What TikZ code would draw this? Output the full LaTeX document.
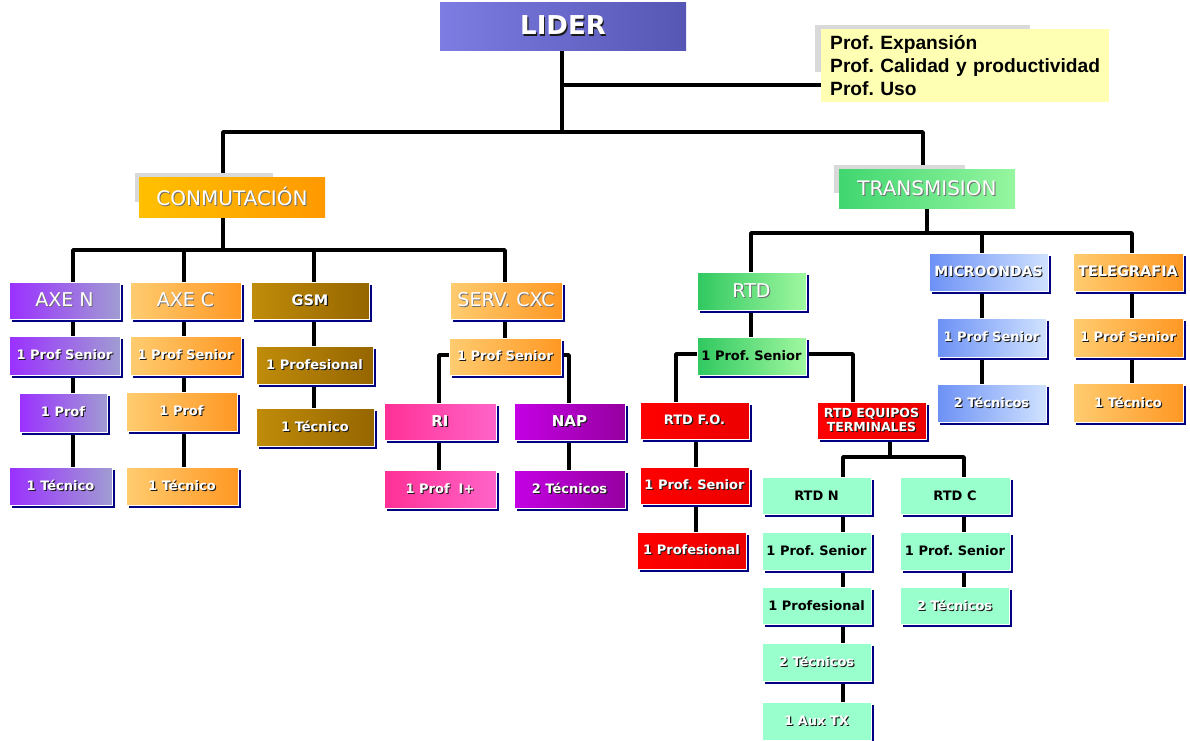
\documentclass[tikz,border=0pt]{standalone}
\usepackage{fontspec}
\setmainfont{DejaVu Sans}
\newfontfamily\notefont{Liberation Sans}
\usetikzlibrary{shadows,backgrounds}
\frenchspacing

\definecolor{navyshadow}{HTML}{000080}
\definecolor{tshadow}{HTML}{1A1A1A}
\definecolor{hshadow}{HTML}{707070}
\definecolor{greyshade}{HTML}{D9D9D9}
\definecolor{notefill}{HTML}{FFFFB4}

% white lettering with a small dark drop shadow
\newcommand\wt[1]{\leavevmode\rlap{\kern1.1pt\raisebox{-1.1pt}{\textcolor{tshadow}{#1}}}\textcolor{white}{#1}}
% white lettering with a soft grey shadow (headings)
\newcommand\wl[1]{\leavevmode\rlap{\kern0.9pt\raisebox{-0.9pt}{\textcolor{hshadow}{#1}}}\textcolor{white}{#1}}

% box given by its corners: name, x1, y1, x2, y2, style, text
\newcommand\orgbox[7]{%
  \node[#6, minimum width={(#4-#2)*1pt}, minimum height={(#5-#3)*1pt}]
    (#1) at ({(#2+#4)/2},{(#3+#5)/2}) {#7};}

\tikzset{
  box/.style={rectangle, inner sep=0pt, draw=white, line width=0.7pt, align=center,
    general shadow={fill=navyshadow, shadow xshift=3pt, shadow yshift=-3pt}},
  flat/.style={rectangle, inner sep=0pt, draw=none, align=center},
  lbl/.style={font=\bfseries\fontsize{13}{14}\selectfont},
  hd/.style={font=\fontsize{19}{22}\selectfont},
  purp/.style={box, left color={rgb,255:red,155;green,48;blue,255}, right color={rgb,255:red,160;green,156;blue,210}},
  orng/.style={box, left color={rgb,255:red,255;green,204;blue,112}, right color={rgb,255:red,255;green,152;blue,36}},
  brwn/.style={box, left color={rgb,255:red,192;green,140;blue,10}, right color={rgb,255:red,150;green,102;blue,0}},
  pink/.style={box, left color={rgb,255:red,255;green,48;blue,150}, right color={rgb,255:red,255;green,100;blue,200}},
  mag/.style={box, left color={rgb,255:red,196;green,0;blue,228}, right color={rgb,255:red,150;green,0;blue,160}},
  grn/.style={box, left color={rgb,255:red,48;green,200;blue,96}, right color={rgb,255:red,160;green,248;blue,160}},
  redb/.style={box, left color={rgb,255:red,255;green,0;blue,0}, right color={rgb,255:red,236;green,0;blue,0}},
  aqua/.style={box, fill={rgb,255:red,153;green,255;blue,204}},
  blu/.style={box, left color={rgb,255:red,108;green,145;blue,245}, right color={rgb,255:red,208;green,226;blue,255}},
  conn/.style={line width=3.5pt, line join=round, black},
}

\begin{document}
\begin{tikzpicture}[x=1pt,y=-1pt]
\useasboundingbox (0,0) rectangle (1190,740);

% ---------- top ----------
\orgbox{lider}{440}{2}{686}{50}{flat, left color={rgb,255:red,124;green,124;blue,226}, right color={rgb,255:red,86;green,86;blue,180}, font=\bfseries\fontsize{26}{28}\selectfont}{\wt{LIDER}}

\orgbox{noteshade}{815}{25}{1030}{72}{flat, fill=greyshade}{}
\node[flat, fill=notefill, minimum height=73pt, text width=270pt, inner xsep=9pt, align=left,
      font=\notefont\bfseries\fontsize{19.2}{23}\selectfont, anchor=west]
  (note) at (821,65.5) {Prof. Expansión\\Prof. Calidad y productividad\\Prof. Uso};

\orgbox{conshade}{135}{173}{273}{202}{flat, fill=greyshade}{}
\orgbox{con}{139}{177}{325}{217}{flat, left color={rgb,255:red,255;green,192;blue,0}, right color={rgb,255:red,255;green,153;blue,0}, font=\fontsize{20}{22}\selectfont}{\wl{CONMUTACIÓN}}
\orgbox{trashade}{834}{165}{965}{193}{flat, fill=greyshade}{}
\orgbox{tra}{839}{169}{1015}{208}{flat, left color={rgb,255:red,64;green,214;blue,112}, right color={rgb,255:red,150;green,246;blue,160}, font=\fontsize{20}{22}\selectfont}{\wl{TRANSMISION}}

% ---------- Conmutación ----------
\orgbox{axen}{9}{282}{120}{319}{purp,hd}{\wl{AXE N}}
\orgbox{axenps}{9}{336}{120}{375}{purp,lbl}{\wt{1 Prof Senior}}
\orgbox{axenpr}{19}{393}{107}{432}{purp,lbl}{\wt{1 Prof}}
\orgbox{axente}{9}{467}{112}{505}{purp,lbl}{\wt{1 Técnico}}

\orgbox{axec}{130}{282}{241}{319}{orng,hd}{\wl{AXE C}}
\orgbox{axecps}{130}{336}{241}{375}{orng,lbl}{\wt{1 Prof Senior}}
\orgbox{axecpr}{126}{392}{237}{431}{orng,lbl}{\wt{1 Prof}}
\orgbox{axecte}{126}{467}{238}{505}{orng,lbl}{\wt{1 Técnico}}

\orgbox{gsm}{251}{282}{369}{319}{brwn,font=\bfseries\fontsize{14.5}{16}\selectfont}{\wt{GSM}}
\orgbox{gsmpr}{256}{346}{373}{384}{brwn,lbl}{\wt{1 Profesional}}
\orgbox{gsmte}{256}{408}{374}{446}{brwn,lbl}{\wt{1 Técnico}}

\orgbox{serv}{450}{282}{562}{319}{orng,hd}{\wl{SERV. CXC}}
\orgbox{servps}{449}{338}{561}{375}{orng,lbl}{\wt{1 Prof Senior}}
\orgbox{ri}{384}{403}{496}{440}{pink,font=\bfseries\fontsize{15}{16}\selectfont}{\wt{RI}}
\orgbox{rite}{384}{470}{496}{508}{pink,lbl}{\wt{1 Prof~~I+}}
\orgbox{nap}{514}{403}{625}{440}{mag,font=\bfseries\fontsize{15}{16}\selectfont}{\wt{NAP}}
\orgbox{napte}{514}{470}{625}{508}{mag,lbl}{\wt{2 Técnicos}}

% ---------- Transmisión ----------
\orgbox{rtd}{697}{272}{806}{310}{grn,hd}{\wl{RTD}}
\orgbox{rtdps}{697}{337}{806}{375}{grn,lbl}{1 Prof. Senior}

\orgbox{fo}{640}{402}{749}{439}{redb,lbl}{\wt{RTD F.O.}}
\orgbox{fops}{640}{467}{749}{504}{redb,lbl}{\wt{1 Prof. Senior}}
\orgbox{fopr}{637}{532}{746}{569}{redb,lbl}{\wt{1 Profesional}}

\orgbox{eq}{817}{402}{926}{439}{redb,font=\bfseries\fontsize{12.5}{13.5}\selectfont}{\wt{RTD EQUIPOS}\\\wt{TERMINALES}}

\orgbox{rtdn}{762}{477}{871}{514}{aqua,lbl}{RTD N}
\orgbox{rtdnps}{762}{532}{871}{570}{aqua,lbl}{1 Prof. Senior}
\orgbox{rtdnpr}{762}{587}{871}{624}{aqua,lbl}{1 Profesional}
\orgbox{rtdnte}{762}{643}{871}{681}{aqua,lbl}{\wt{2 Técnicos}}
\orgbox{rtdnax}{762}{702}{871}{740}{aqua,lbl}{\wt{1 Aux TX}}

\orgbox{rtdc}{900}{477}{1010}{514}{aqua,lbl}{RTD C}
\orgbox{rtdcps}{900}{532}{1010}{570}{aqua,lbl}{1 Prof. Senior}
\orgbox{rtdcte}{900}{587}{1009}{624}{aqua,lbl}{\wt{2 Técnicos}}

\orgbox{mic}{929}{253}{1048}{291}{blu,font=\bfseries\fontsize{14}{16}\selectfont}{\wt{MICROONDAS}}
\orgbox{micps}{937}{318}{1046}{357}{blu,lbl}{\wt{1 Prof Senior}}
\orgbox{micte}{937}{384}{1046}{422}{blu,lbl}{\wt{2 Técnicos}}

\orgbox{tel}{1073}{253}{1183}{291}{orng,font=\bfseries\fontsize{14.5}{16}\selectfont}{\wt{TELEGRAFIA}}
\orgbox{telps}{1073}{318}{1183}{357}{orng,lbl}{\wt{1 Prof Senior}}
\orgbox{telte}{1073}{383}{1183}{422}{orng,lbl}{\wt{1 Técnico}}

% ---------- junction points and column lines ----------
\coordinate (b1) at (562,132);
\coordinate (nj) at (562,85);
\coordinate (xcon) at (223,0);
\coordinate (xtra) at (923,0);
\coordinate (cb) at (223,250);
\coordinate (tb) at (927,233);
\coordinate (xa) at (73,0);
\coordinate (xc) at (184,0);
\coordinate (xg) at (314,0);
\coordinate (xs) at (505,0);
\coordinate (sj) at (0,355);
\coordinate (xri) at (439,0);
\coordinate (xnap) at (569,0);
\coordinate (xrtd) at (751,0);
\coordinate (rj) at (0,354);
\coordinate (xfl) at (676,0);
\coordinate (xfr) at (853,0);
\coordinate (xfo) at (696,0);
\coordinate (eb) at (890,457);
\coordinate (xn) at (843,0);
\coordinate (xrc) at (964,0);
\coordinate (xmi) at (982,0);
\coordinate (xte) at (1132,0);

\begin{scope}[on background layer]
  % leader and staff
  \draw[conn] (lider.south -| b1) -- (b1);
  \draw[conn] (nj) -- (nj -| note.west);
  \draw[conn] (conshade.north -| xcon) |- (b1) -| (trashade.north -| xtra);

  % Conmutación
  \draw[conn] (con.south -| cb) -- (cb);
  \draw[conn] (axen.north -| xa) |- (cb) -| (serv.north -| xs);
  \draw[conn] (axec.north -| xc) |- (cb);
  \draw[conn] (gsm.north -| xg) |- (cb);
  \draw[conn] (axen.south -| xa) -- (axenps.north -| xa);
  \draw[conn] (axenps.south -| xa) -- (axenpr.north -| xa);
  \draw[conn] (axenpr.south -| xa) -- (axente.north -| xa);
  \draw[conn] (axec.south -| xc) -- (axecps.north -| xc);
  \draw[conn] (axecps.south -| xc) -- (axecpr.north -| xc);
  \draw[conn] (axecpr.south -| xc) -- (axecte.north -| xc);
  \draw[conn] (gsm.south -| xg) -- (gsmpr.north -| xg);
  \draw[conn] (gsmpr.south -| xg) -- (gsmte.north -| xg);
  \draw[conn] (serv.south -| xs) -- (servps.north -| xs);
  \draw[conn] (servps.west |- sj) -| (ri.north -| xri);
  \draw[conn] (servps.east |- sj) -| (nap.north -| xnap);
  \draw[conn] (ri.south -| xri) -- (rite.north -| xri);
  \draw[conn] (nap.south -| xnap) -- (napte.north -| xnap);

  % Transmisión
  \draw[conn] (tra.south -| tb) -- (tb);
  \draw[conn] (rtd.north -| xrtd) |- (tb) -| (tel.north -| xte);
  \draw[conn] (mic.north -| xmi) |- (tb);
  \draw[conn] (rtd.south -| xrtd) -- (rtdps.north -| xrtd);
  \draw[conn] (rtdps.west |- rj) -| (fo.north -| xfl);
  \draw[conn] (rtdps.east |- rj) -| (eq.north -| xfr);
  \draw[conn] (fo.south -| xfo) -- (fops.north -| xfo);
  \draw[conn] (fops.south -| xfo) -- (fopr.north -| xfo);
  \draw[conn] (eq.south -| eb) -- (eb);
  \draw[conn] (rtdn.north -| xn) |- (eb) -| (rtdc.north -| xrc);
  \draw[conn] (rtdn.south -| xn) -- (rtdnps.north -| xn);
  \draw[conn] (rtdnps.south -| xn) -- (rtdnpr.north -| xn);
  \draw[conn] (rtdnpr.south -| xn) -- (rtdnte.north -| xn);
  \draw[conn] (rtdnte.south -| xn) -- (rtdnax.north -| xn);
  \draw[conn] (rtdc.south -| xrc) -- (rtdcps.north -| xrc);
  \draw[conn] (rtdcps.south -| xrc) -- (rtdcte.north -| xrc);
  \draw[conn] (mic.south -| xmi) -- (micps.north -| xmi);
  \draw[conn] (micps.south -| xmi) -- (micte.north -| xmi);
  \draw[conn] (tel.south -| xte) -- (telps.north -| xte);
  \draw[conn] (telps.south -| xte) -- (telte.north -| xte);
\end{scope}
\end{tikzpicture}
\end{document}
